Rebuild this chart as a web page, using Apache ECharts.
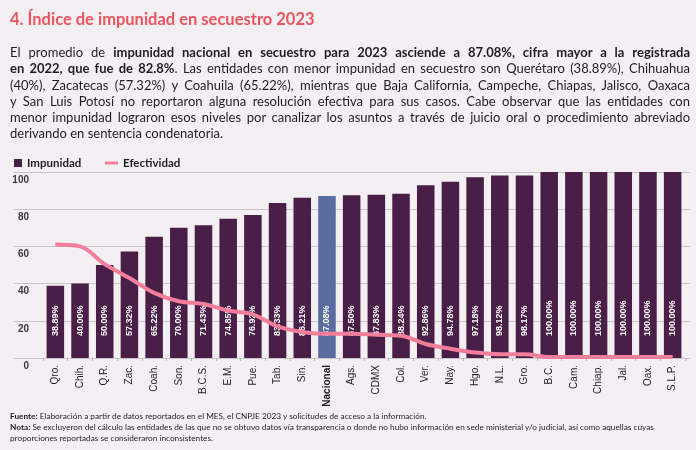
<!DOCTYPE html>
<html><head><meta charset="utf-8">
<script src="https://cdn.jsdelivr.net/npm/echarts@6/dist/echarts.min.js"></script>
<style>
html,body{margin:0;padding:0;background:#f4eff3;width:696px;height:450px;overflow:hidden;font-family:Lato,"Noto Sans",sans-serif;}
#title{position:absolute;left:10px;top:9px;font-size:16.5px;font-weight:bold;color:#e9555f;white-space:nowrap;}
#para{position:absolute;left:10px;top:44px;width:680px;font-size:13px;line-height:16.3px;color:#1e1e1e;}
#para div{text-align:justify;text-align-last:justify;white-space:nowrap;}
#para div.last{text-align-last:left;}
#foot{position:absolute;left:10px;top:411px;font-size:8.25px;line-height:11px;color:#1e1e1e;white-space:nowrap;}
#chart{position:absolute;left:0;top:0;width:696px;height:450px;}
</style></head>
<body>
<div id="chart"></div>
<div id="title">4. Índice de impunidad en secuestro 2023</div>
<div id="para">
<div>El promedio de <b>impunidad nacional en secuestro para 2023 asciende a 87.08%, cifra mayor a la registrada</b></div>
<div><b>en 2022, que fue de 82.8%</b>. Las entidades con menor impunidad en secuestro son Querétaro (38.89%), Chihuahua</div>
<div>(40%), Zacatecas (57.32%) y Coahuila (65.22%), mientras que Baja California, Campeche, Chiapas, Jalisco, Oaxaca</div>
<div>y San Luis Potosí no reportaron alguna resolución efectiva para sus casos. Cabe observar que las entidades con</div>
<div>menor impunidad lograron esos niveles por canalizar los asuntos a través de juicio oral o procedimiento abreviado</div>
<div class="last">derivando en sentencia condenatoria.</div>
</div>
<div id="foot">
<div><b>Fuente:</b> Elaboración a partir de datos reportados en el MES, el CNPJE 2023 y solicitudes de acceso a la información.</div>
<div><b>Nota:</b> Se excluyeron del cálculo las entidades de las que no se obtuvo datos vía transparencia o donde no hubo información en sede ministerial y/o judicial, así como aquellas cuyas</div>
<div>proporciones reportadas se consideraron inconsistentes.</div>
</div>
<script>
var categories = ['Qro.','Chih.','Q.R.','Zac.','Coah.','Son.','B.C.S.','E.M.','Pue.','Tab.','Sin.','Nacional','Ags.','CDMX','Col.','Ver.','Nay.','Hgo.','N.L.','Gro.','B.C.','Cam.','Chiap.','Jal.','Oax.','S.L.P.'];
var impunidad = [38.89,40.00,50.00,57.32,65.22,70.00,71.43,74.85,76.92,83.33,86.21,87.08,87.50,87.83,88.24,92.86,94.78,97.18,98.12,98.17,100,100,100,100,100,100];
var efectividad = [61,60,50.5,43,35,30.5,29,25.5,23.5,17,14,13,13,12.5,12,7.5,5,3,2,2,0.5,0.5,0.5,0.5,0.5,0.5];
var yTicks = [0,20,40,60,80,100];

var BAR = '#4a1f47', NAC = '#5a6ca0', LINE = '#f27e9c';
var chart = echarts.init(document.getElementById('chart'), null, {renderer:'canvas'});
var barData = impunidad.map(function(v,i){
  return categories[i]==='Nacional' ? {value:v, itemStyle:{color:NAC}} : v;
});
chart.setOption({
  backgroundColor:'transparent',
  animation:false,
  textStyle:{fontFamily:'Lato, "Noto Sans", sans-serif'},
  legend:[
    {left:9, top:152, itemWidth:8, itemHeight:8, itemGap:10, icon:'rect',
     data:['Impunidad'], textStyle:{fontSize:11.5, fontWeight:'bold', color:'#1e1e1e'}},
    {left:100, top:152, itemWidth:13, itemHeight:3, icon:'rect',
     data:['Efectividad'], textStyle:{fontSize:11.5, fontWeight:'bold', color:'#1e1e1e'}}
  ],
  grid:[
    {left:14, right:6, top:172, bottom:92},
    {left:43, right:11, top:172, bottom:92}
  ],
  xAxis:[
    {gridIndex:0, type:'value', show:false, min:0, max:1},
    {gridIndex:1, type:'category', data:categories,
     axisLine:{show:false},
     axisTick:{show:true, length:3, lineStyle:{color:'#b8b3b7'}},
     axisLabel:{rotate:90, fontSize:10, color:'#1e1e1e', margin:7, fontFamily:'Liberation Sans, Arial, sans-serif',
       formatter:function(v){return v==='Nacional' ? '{b|'+v+'}' : v;},
       rich:{b:{fontWeight:'bold', fontSize:10, color:'#1e1e1e', fontFamily:'Liberation Sans, Arial, sans-serif'}}}}
  ],
  yAxis:[
    {gridIndex:0, type:'value', min:yTicks[0], max:yTicks[yTicks.length-1], interval:20,
     axisLine:{show:false}, axisTick:{show:false},
     splitLine:{show:true, lineStyle:{color:'#c9c4c8', width:1}},
     axisLabel:{inside:true, align:'right', margin:15, verticalAlign:'top', padding:[3,0,0,0],
       fontSize:10, fontWeight:'bold', color:'#3a3a3a', fontFamily:'Liberation Sans, Arial, sans-serif'}},
    {gridIndex:1, type:'value', min:0, max:100, show:false}
  ],
  series:[
    {name:'Impunidad', type:'bar', xAxisIndex:1, yAxisIndex:1, data:barData, barWidth:'71%',
     itemStyle:{color:BAR},
     label:{show:true, position:'insideBottom', rotate:90, align:'left', verticalAlign:'middle', distance:22,
       fontSize:9, fontWeight:'bold', color:'#ffffff', fontFamily:'Liberation Sans, Arial, sans-serif',
       formatter:function(p){return p.value.toFixed(2)+'%';}}},
    {name:'Efectividad', type:'line', xAxisIndex:1, yAxisIndex:1, data:efectividad, smooth:0.35,
     showSymbol:false, symbol:'none', z:5, lineStyle:{color:LINE, width:4}, itemStyle:{color:LINE}}
  ]
});
</script>
</body></html>
